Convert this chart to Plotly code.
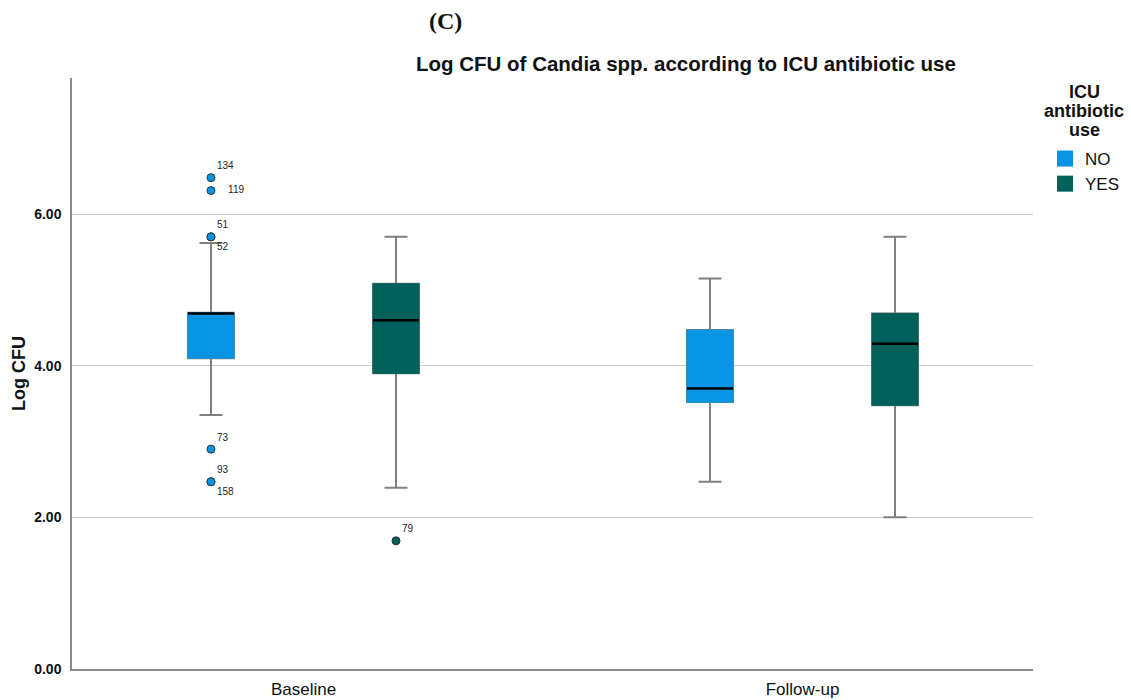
import plotly.graph_objects as go

# Summary statistics of log CFU per time point and ICU antibiotic group
timepoints = ["Baseline", "Follow-up"]
groups = ["NO", "YES"]
group_colors = {"NO": "#0993E3", "YES": "#00605A"}

q1 = {"NO": [4.10, 3.52], "YES": [3.90, 3.48]}
median = {"NO": [4.69, 3.70], "YES": [4.60, 4.29]}
q3 = {"NO": [4.70, 4.47], "YES": [5.08, 4.69]}
lower_whisker = {"NO": [3.35, 2.47], "YES": [2.39, 2.00]}
upper_whisker = {"NO": [5.62, 5.15], "YES": [5.70, 5.70]}

# Individual outlying cases: (timepoint index, group, value, case id)
outlier_tp = [0, 0, 0, 0, 0, 0, 0, 0]
outlier_group = ["NO", "NO", "NO", "NO", "NO", "NO", "NO", "YES"]
outlier_value = [6.48, 6.31, 5.70, 5.70, 2.90, 2.47, 2.47, 1.69]
outlier_id = ["134", "119", "51", "52", "73", "93", "158", "79"]
outlier_textpos = ["top right", "middle right", "top right", "bottom right",
                   "top right", "top right", "bottom right", "top right"]

y_ticks = [0, 2, 4, 6]
legend_title_lines = ["ICU", "antibiotic", "use"]

group_offset = {"NO": -0.1854, "YES": 0.1854}
box_width = 0.0922
whisker_color = "#808080"

ML, MR, MT, MB = 72, 98, 78, 31
W, H = 1131, 700
plot_w = W - ML - MR
plot_h = H - MT - MB


def px_x(px):
    return (px - ML) / plot_w


def px_y(py):
    return (H - MB - py) / plot_h


fig = go.Figure()

for g in groups:
    xs = [i + group_offset[g] for i in range(len(timepoints))]
    # whiskers with caps
    fig.add_trace(go.Box(
        x=xs, q1=q1[g], median=median[g], q3=q3[g],
        lowerfence=lower_whisker[g], upperfence=upper_whisker[g],
        width=box_width, whiskerwidth=0.5,
        fillcolor=group_colors[g], line=dict(color=whisker_color, width=2),
        boxpoints=False, showlegend=False, hoverinfo="skip",
    ))
    # box body drawn in the group colour
    fig.add_trace(go.Box(
        x=xs, q1=q1[g], median=q1[g], q3=q3[g],
        lowerfence=q1[g], upperfence=q3[g],
        width=box_width, whiskerwidth=0,
        fillcolor=group_colors[g], line=dict(color=group_colors[g], width=1),
        boxpoints=False, showlegend=False, hoverinfo="skip",
    ))
    # median bars
    for x, m in zip(xs, median[g]):
        fig.add_trace(go.Scatter(
            x=[x - box_width / 2, x + box_width / 2], y=[m, m],
            mode="lines", line=dict(color="black", width=2.5),
            showlegend=False, hoverinfo="skip",
        ))

# outlying cases with their case numbers
for g in groups:
    idx = [k for k, og in enumerate(outlier_group) if og == g]
    fig.add_trace(go.Scatter(
        x=[outlier_tp[k] + group_offset[g] for k in idx],
        y=[outlier_value[k] for k in idx],
        text=[("    " + outlier_id[k]) if outlier_textpos[k] == "middle right" else outlier_id[k] for k in idx],
        textposition=[outlier_textpos[k] for k in idx],
        mode="markers+text",
        marker=dict(color=group_colors[g], size=8, line=dict(color="#333333", width=1)),
        textfont=dict(family="Liberation Sans, Arial", size=10, color="#222222"),
        showlegend=False, hoverinfo="skip",
    ))

# legend entries
for g in groups:
    fig.add_trace(go.Scatter(
        x=[None], y=[None], mode="markers", name=g,
        marker=dict(symbol="square", size=16, color=group_colors[g]),
    ))

annotations = [
    dict(text="<b>(C)</b>", x=px_x(445), y=px_y(21), xref="paper", yref="paper",
         xanchor="center", yanchor="middle", showarrow=False,
         font=dict(family="Liberation Serif, Times New Roman", size=24, color="#111111")),
    dict(text="<b>Log CFU of Candia spp. according to ICU antibiotic use</b>",
         x=px_x(686), y=px_y(63), xref="paper", yref="paper",
         xanchor="center", yanchor="middle", showarrow=False,
         font=dict(size=20.5, color="#111111")),
]
# legend heading, one line at a time for tight line spacing
for i, line in enumerate(legend_title_lines):
    annotations.append(dict(
        text=f"<b>{line}</b>", x=px_x(1084), y=px_y(92 + 19 * i),
        xref="paper", yref="paper", xanchor="center", yanchor="middle",
        showarrow=False, font=dict(size=18, color="#111111"),
    ))

fig.update_layout(
    width=W, height=H,
    margin=dict(l=ML, r=MR, t=MT, b=MB, autoexpand=False),
    paper_bgcolor="white", plot_bgcolor="white",
    boxmode="overlay",
    font=dict(family="Liberation Sans, Arial", color="#111111"),
    xaxis=dict(
        range=[-0.4639, 1.4619],
        tickmode="array", tickvals=list(range(len(timepoints))), ticktext=timepoints,
        tickfont=dict(size=17, color="#111111"),
        showgrid=False, zeroline=False,
        showline=True, linecolor="#8c8c8c", linewidth=1.5,
        ticks="", ticklabelstandoff=4, automargin=False,
    ),
    yaxis=dict(
        range=[0, 7.795],
        tickmode="array", tickvals=y_ticks, ticktext=[f"<b>{v:.2f}</b>" for v in y_ticks],
        tickfont=dict(size=14, color="#111111"),
        showgrid=True, gridcolor="#c8c8c8", gridwidth=1,
        zeroline=False,
        showline=True, linecolor="#8c8c8c", linewidth=1.5,
        ticks="", ticklabelstandoff=6, automargin=False,
        title=dict(text="<b>Log CFU</b>", font=dict(size=18, color="#111111"), standoff=4),
    ),
    legend=dict(
        x=px_x(1045), xanchor="left", y=px_y(141), yanchor="top",
        font=dict(size=17, color="#111111"),
        itemsizing="trace", tracegroupgap=0,
        bgcolor="rgba(0,0,0,0)",
    ),
    annotations=annotations,
)

fig.write_html("out.html")
